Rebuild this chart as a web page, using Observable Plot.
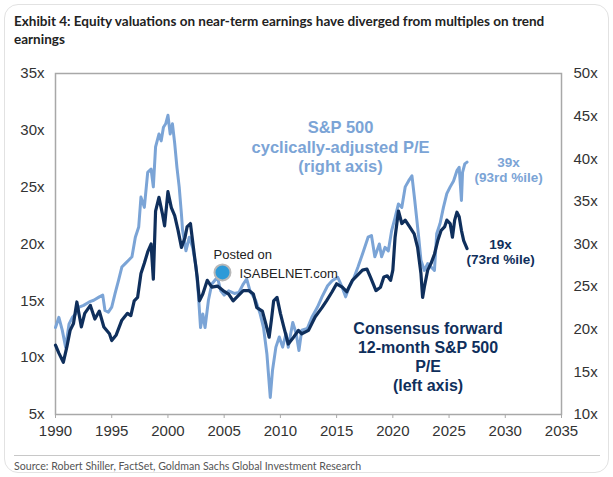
<!DOCTYPE html>
<html><head><meta charset="utf-8">
<script src="https://cdn.jsdelivr.net/npm/d3@7"></script>
<script src="https://cdn.jsdelivr.net/npm/@observablehq/plot@0.6"></script>
<style>
body{margin:0;background:#fff;}
#card{position:relative;width:613px;height:477px;overflow:hidden;background:#fff;}
#border{position:absolute;left:4px;top:4px;width:603px;height:467px;border:1px solid #e2e2e2;border-radius:14px;}
#title{position:absolute;left:14px;top:12px;width:595px;font-family:Lato,sans-serif;font-weight:bold;font-size:13.5px;line-height:18px;color:#222;}
#chart{position:absolute;left:0;top:58px;}
#rule{position:absolute;left:14px;top:455px;width:586px;height:1px;background:#c8c8c8;}
#source{position:absolute;left:14px;top:460px;font-family:Lato,sans-serif;font-size:10.6px;color:#555;}
</style></head>
<body><div id="card">
<div id="border"></div>
<div id="title">Exhibit 4: Equity valuations on near-term earnings have diverged from multiples on trend<br>earnings</div>
<div id="chart"></div>
<div id="rule"></div>
<div id="source">Source: Robert Shiller, FactSet, Goldman Sachs Global Investment Research</div>
</div>
<script>
// Consensus forward 12-month S&P 500 P/E (left axis)
const fwdYears = [1990.0,1990.3,1990.7,1991.0,1991.3,1991.6,1991.9,1992.3,1992.6,1993.1,1993.5,1993.9,1994.3,1994.8,1995.0,1995.4,1995.9,1996.4,1996.7,1997.0,1997.3,1997.6,1997.9,1998.2,1998.5,1998.7,1998.9,1999.2,1999.5,1999.7,2000.0,2000.3,2000.6,2000.9,2001.2,2001.5,2001.7,2002.0,2002.3,2002.6,2002.8,2003.1,2003.5,2003.9,2004.4,2004.9,2005.4,2005.8,2006.3,2006.7,2007.2,2007.6,2007.9,2008.4,2008.7,2009.0,2009.2,2009.4,2009.7,2010.0,2010.3,2010.7,2011.1,2011.6,2011.9,2012.5,2013.1,2013.7,2014.1,2014.6,2015.0,2015.5,2015.9,2016.4,2016.8,2017.3,2017.7,2018.0,2018.5,2018.9,2019.2,2019.5,2019.8,2020.0,2020.2,2020.5,2020.8,2021.1,2021.5,2021.9,2022.2,2022.5,2022.65,2022.8,2023.1,2023.4,2023.7,2024.0,2024.3,2024.6,2024.8,2025.1,2025.3,2025.5,2025.7,2025.9,2026.1,2026.3,2026.6];
const fwdValues = [11.1,10.4,9.6,10.9,12.4,13.0,14.9,12.7,13.9,14.6,13.4,14.1,12.7,12.1,11.5,12.0,13.3,13.9,13.7,15.0,15.3,17.4,18.3,19.3,20.0,16.9,22.9,24.1,22.7,21.6,24.6,23.2,22.5,21.2,19.7,20.5,21.5,21.8,19.4,17.1,15.0,15.6,16.8,16.2,16.3,15.9,15.6,15.0,15.5,15.9,15.9,15.6,14.4,14.1,13.0,11.8,13.3,15.0,15.3,13.9,12.7,11.2,11.7,12.4,12.1,12.4,13.6,14.4,15.0,15.8,16.5,16.2,15.8,16.8,17.2,17.7,17.8,17.1,15.9,16.2,17.1,17.2,16.8,17.7,20.6,22.9,21.8,22.1,21.5,20.9,19.7,17.4,15.3,16.2,17.7,18.3,19.1,20.3,21.2,21.5,22.1,21.8,20.6,22.1,22.8,22.4,21.2,20.3,19.6];

// S&P 500 cyclically-adjusted P/E (right axis)
const capeYears = [1990.0,1990.3,1990.6,1990.9,1991.2,1991.5,1991.8,1992.1,1992.5,1993.0,1993.4,1993.9,1994.2,1994.4,1994.7,1995.0,1995.3,1995.6,1995.9,1996.2,1996.5,1996.8,1997.1,1997.4,1997.6,1997.9,1998.2,1998.5,1998.7,1998.9,1999.2,1999.4,1999.6,1999.8,2000.0,2000.2,2000.4,2000.6,2000.8,2001.0,2001.2,2001.3,2001.6,2001.9,2002.2,2002.5,2002.7,2002.9,2003.1,2003.3,2003.6,2003.9,2004.4,2004.7,2005.0,2005.4,2005.9,2006.3,2006.7,2007.0,2007.3,2007.8,2008.2,2008.5,2008.8,2009.1,2009.3,2009.6,2009.9,2010.2,2010.5,2010.7,2011.1,2011.4,2011.65,2011.9,2012.4,2012.8,2013.3,2013.7,2014.2,2014.6,2015.1,2015.5,2015.8,2016.1,2016.5,2016.9,2017.4,2017.8,2018.1,2018.4,2018.8,2019.0,2019.3,2019.6,2019.9,2020.2,2020.5,2020.8,2021.1,2021.4,2021.7,2021.95,2022.3,2022.5,2022.8,2023.1,2023.4,2023.7,2023.9,2024.2,2024.5,2024.8,2025.1,2025.4,2025.7,2025.9,2026.1,2026.2,2026.4,2026.6];
const capeValues = [20.2,21.4,19.9,17.9,20.6,21.4,21.8,22.6,22.8,23.2,23.4,23.8,24.0,22.2,22.0,22.6,24.2,25.7,27.3,27.7,28.1,28.5,30.8,32.0,35.5,34.3,38.4,38.8,36.7,41.4,42.9,42.1,43.7,44.1,45.1,42.9,44.1,41.8,39.0,36.7,33.5,31.6,29.2,30.8,29.6,27.3,24.2,20.2,21.8,20.2,23.4,25.3,26.1,24.5,24.0,24.5,24.2,24.3,25.3,25.9,24.5,23.4,21.8,20.2,17.1,12.0,15.2,17.9,19.1,17.9,19.5,17.9,20.8,19.5,17.5,19.9,20.1,21.4,22.6,23.8,25.1,25.7,26.1,24.9,23.8,24.9,25.9,27.3,29.2,30.8,31.0,28.5,30.0,28.5,29.6,29.2,31.6,33.1,34.7,34.3,36.7,37.4,38.0,35.1,30.8,28.1,26.9,27.7,27.3,26.9,31.2,32.4,34.3,35.9,36.7,37.4,38.6,39.0,35.1,38.4,39.4,39.6];

const xTicks = [1990,1995,2000,2005,2010,2015,2020,2025,2030,2035];
const leftTicks = [5,10,15,20,25,30,35];
const rightTicks = [10,15,20,25,30,35,40,45,50];

// map right-axis values (10x..50x) onto left-axis scale (5x..35x)
const toLeft = r => 5 + (r - 10) * 30 / 40;
const fromLeft = l => Math.round((l - 5) * 40 / 30 + 10);

const fwd = fwdYears.map((t, i) => ({t, v: fwdValues[i]}));
const cape = capeYears.map((t, i) => ({t, v: toLeft(capeValues[i])}));

const light = "#7ba4d6", dark = "#0f2f5c";
const bold = {fontFamily: "Liberation Sans, Arial, sans-serif", fontWeight: "bold"};

const chart = Plot.plot({
  width: 613, height: 390,
  marginTop: 15, marginBottom: 34, marginLeft: 55, marginRight: 52,
  style: {fontFamily: "Liberation Sans, Arial, sans-serif", fontSize: "15px", color: "#333", background: "transparent"},
  x: {domain: [1990, 2035]},
  y: {domain: [5, 35]},
  marks: [
    Plot.frame({stroke: "#a8a8a8", strokeWidth: 1.5}),
    Plot.axisX(xTicks, {label: null, tickFormat: d => String(d), tickSize: 4, tickPadding: 7, stroke: "#a8a8a8", fill: "#333", fontSize: 15}),
    Plot.axisY(leftTicks, {anchor: "left", label: null, tickSize: 0, tickPadding: 11, tickFormat: d => d + "x", fill: "#333", fontSize: 15}),
    Plot.axisY(rightTicks.map(toLeft), {anchor: "right", label: null, tickSize: 0, tickPadding: 12, tickFormat: d => fromLeft(d) + "x", fill: "#333", fontSize: 15}),
    Plot.line(cape, {x: "t", y: "v", stroke: light, strokeWidth: 3, strokeLinejoin: "round"}),
    Plot.line(fwd, {x: "t", y: "v", stroke: dark, strokeWidth: 3.2, strokeLinejoin: "round"}),
    Plot.text(["S&P 500\ncyclically-adjusted P/E\n(right axis)"], {x: 2015.35, y: 28.58, text: d => d, fill: light, fontSize: 16.5, lineHeight: 1.16, ...bold}),
    Plot.text(["Consensus forward\n12-month S&P 500\nP/E\n(left axis)"], {x: 2023.13, y: 10.1, text: d => d, fill: dark, fontSize: 16, lineHeight: 1.2, ...bold}),
    Plot.text(["39x\n(93rd %ile)"], {x: 2030.29, y: 26.51, text: d => d, fill: light, fontSize: 13.5, lineHeight: 1.12, ...bold}),
    Plot.text(["19x\n(73rd %ile)"], {x: 2029.58, y: 19.3, text: d => d, fill: dark, fontSize: 13.5, lineHeight: 1.12, ...bold}),
    Plot.dot([0], {x: 2004.85, y: 17.5, r: 8, fill: "#2e9ad8", stroke: "#b8b8b8", strokeWidth: 2}),
    Plot.text(["Posted on"], {x: 2004.05, y: 19.08, text: d => d, textAnchor: "start", fill: "#222", fontSize: 13}),
    Plot.text(["ISABELNET.com"], {x: 2006.36, y: 17.41, text: d => d, textAnchor: "start", fill: "#222", fontSize: 13})
  ]
});
document.getElementById("chart").appendChild(chart);
</script>
</body></html>
